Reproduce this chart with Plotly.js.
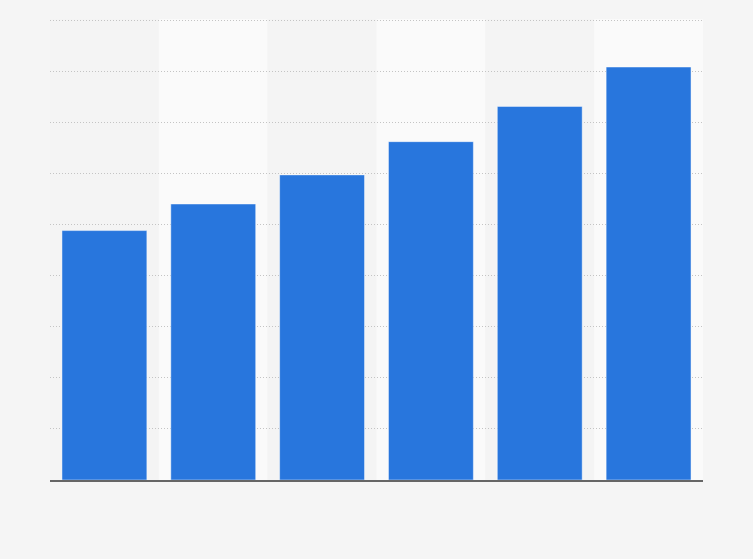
<!DOCTYPE html>
<html>
<head>
<meta charset="utf-8">
<script src="https://cdn.plot.ly/plotly-3.0.1.min.js"></script>
<style>
    html, body { margin: 0; padding: 0; background: #f5f5f5; }
    #chart { width: 753px; height: 559px; }
</style>
</head>
<body>
<div id="chart"></div>
<script>
// Chart data (no labels are shown in the picture)
const categories = ['1', '2', '3', '4', '5', '6'];
const values = [48.8, 54.0, 59.7, 66.2, 73.1, 80.8];
const yMax = 90;

// Alternating column bands behind the bars
const bandColors = ['#f4f4f4', '#fafafa'];
const bands = categories.map((c, i) => ({
    type: 'rect',
    layer: 'below',
    xref: 'x',
    yref: 'paper',
    x0: i - 0.5,
    x1: i + 0.5,
    y0: 0,
    y1: 1,
    fillcolor: bandColors[i % 2],
    line: { width: 0 }
}));

const trace = {
    x: categories.map((c, i) => i),
    y: values,
    type: 'bar',
    marker: {
        color: '#2876dd',
        line: { color: 'rgba(255,255,255,0.45)', width: 1 }
    },
    hoverinfo: 'none'
};

const layout = {
    width: 753,
    height: 559,
    paper_bgcolor: '#f5f5f5',
    plot_bgcolor: '#f5f5f5',
    margin: { t: 19, r: 50, b: 79, l: 50 },
    bargap: 0.22,
    showlegend: false,
    shapes: bands,
    xaxis: {
        range: [-0.5, categories.length - 0.5],
        showticklabels: false,
        ticks: '',
        showgrid: false,
        zeroline: false,
        showline: true,
        linecolor: '#666666',
        linewidth: 1.5
    },
    yaxis: {
        range: [0, yMax + 0.2],
        dtick: 10,
        showticklabels: false,
        ticks: '',
        showgrid: true,
        gridcolor: '#c4c4c4',
        griddash: '1px,2px',
        gridwidth: 1,
        zeroline: false
    }
};

Plotly.newPlot('chart', [trace], layout, { displayModeBar: false, staticPlot: true });
</script>
</body>
</html>
